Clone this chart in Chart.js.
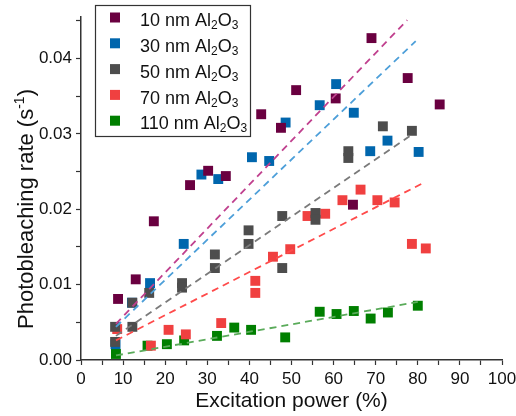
<!DOCTYPE html>
<html>
<head>
<meta charset="utf-8">
<script src="https://cdn.jsdelivr.net/npm/chart.js@4.4.0/dist/chart.umd.min.js"></script>
<style>
  html, body { margin: 0; padding: 0; background: #fff; }
  #wrap { width: 516px; height: 416px; }
</style>
</head>
<body>
<div id="wrap"><canvas id="chart" width="516" height="416"></canvas></div>
<script>
// Al2O3 thickness of each series (nm)
const thickness = ['10', '30', '50', '70', '110'];

// Measured photobleaching rates (s^-1) vs excitation power (%)
const power10 = [8.8, 13.0, 17.3, 25.9, 30.2, 34.4, 42.8, 47.5, 51.1, 60.5, 64.6, 69.0, 77.6, 85.2];
const rate10  = [0.0081, 0.0107, 0.0184, 0.0232, 0.0251, 0.0244, 0.0326, 0.0308, 0.0358, 0.0347, 0.0206, 0.0427, 0.0374, 0.0339];

const power30 = [8.2, 12.1, 16.4, 24.4, 28.6, 32.6, 40.6, 44.7, 48.6, 56.7, 60.6, 64.8, 68.7, 72.8, 80.2];
const rate30  = [0.0021, 0.0076, 0.0102, 0.0154, 0.0246, 0.0240, 0.0269, 0.0264, 0.0315, 0.0338, 0.0366, 0.0328, 0.0277, 0.0291, 0.0276];

const power50 = [8.1, 8.1, 12.2, 12.2, 16.2, 24.0, 24.0, 31.8, 31.8, 39.8, 39.8, 47.8, 47.8, 55.7, 55.7, 63.5, 63.5, 71.7, 78.6];
const rate50  = [0.0044, 0.0024, 0.0076, 0.0044, 0.0089, 0.0102, 0.0096, 0.0140, 0.0122, 0.0172, 0.0154, 0.0191, 0.0122, 0.0195, 0.0186, 0.0277, 0.0268, 0.0310, 0.0304];

const power70 = [8.6, 16.6, 20.8, 24.9, 33.3, 41.4, 41.4, 45.6, 49.7, 53.8, 58.0, 62.1, 66.4, 70.4, 74.5, 78.6, 81.9];
const rate70  = [0.0041, 0.0019, 0.0040, 0.0034, 0.0049, 0.0105, 0.0089, 0.0137, 0.0147, 0.0191, 0.0194, 0.0212, 0.0226, 0.0212, 0.0209, 0.0154, 0.0148];

const power110 = [8.3, 15.8, 20.4, 24.5, 32.3, 36.4, 40.4, 48.5, 56.7, 60.7, 64.8, 68.8, 72.9, 80.0];
const rate110  = [0.0008, 0.0019, 0.0021, 0.0026, 0.0032, 0.0043, 0.0040, 0.0030, 0.0064, 0.0061, 0.0065, 0.0055, 0.0063, 0.0072];

// Linear fits: start/end power and rate
const fitPower = [[8.3, 77.5], [8.3, 79.5], [8.3, 78.1], [8.3, 81.7], [8.3, 80.0]];
const fitRate  = [[0.0048, 0.0451], [0.0044, 0.0423], [0.0032, 0.0297], [0.0026, 0.0236], [0.0006, 0.0077]];

const xTicks = [0, 10, 20, 30, 40, 50, 60, 70, 80, 90, 100];
const yTicks = [0.00, 0.01, 0.02, 0.03, 0.04];

const markerColors = ['#6a0040', '#0066ad', '#4d4d4d', '#f04040', '#007f00'];
const fitColors    = ['#c0408e', '#4d9fd9', '#7a7a7a', '#ff4a4a', '#5aab5a'];
// grey drawn on top, green at the bottom
const stackOrder   = [2, 3, 1, 4, 5];

const powers = [power10, power30, power50, power70, power110];
const rates  = [rate10, rate30, rate50, rate70, rate110];

const FONT = '"Liberation Sans", Arial, sans-serif';

const toPoints = (xs, ys) => xs.map((x, i) => ({ x: x, y: ys[i] }));

const datasets = [];
thickness.forEach((t, i) => {
    datasets.push({
        label: t + ' nm fit',
        data: toPoints(fitPower[i], fitRate[i]),
        showLine: true,
        borderColor: fitColors[i],
        borderWidth: 1.8,
        borderDash: [7, 5],
        pointRadius: 0,
        order: 0
    });
});
thickness.forEach((t, i) => {
    datasets.push({
        label: t + ' nm Al2O3',
        data: toPoints(powers[i], rates[i]),
        pointStyle: 'rect',
        pointRadius: 7,
        borderWidth: 0,
        backgroundColor: markerColors[i],
        borderColor: markerColors[i],
        order: stackOrder[i]
    });
});

// Draws text pieces with sub/superscripts, returns end x
function drawRich(ctx, parts, x, y) {
    parts.forEach(p => {
        ctx.font = p.size + 'px ' + FONT;
        ctx.fillText(p.text, x, y + (p.shift || 0));
        x += ctx.measureText(p.text).width;
    });
    return x;
}
function richWidth(ctx, parts) {
    let w = 0;
    parts.forEach(p => {
        ctx.font = p.size + 'px ' + FONT;
        w += ctx.measureText(p.text).width;
    });
    return w;
}

const annotations = {
    id: 'annotations',
    afterDraw(chart) {
        const ctx = chart.ctx;
        ctx.save();

        // legend box
        ctx.strokeStyle = '#333';
        ctx.lineWidth = 1.2;
        ctx.strokeRect(95.5, 5.5, 155, 131);
        ctx.textBaseline = 'alphabetic';
        ctx.textAlign = 'left';
        thickness.forEach((t, i) => {
            const cy = 17.5 + i * 25.8;
            ctx.fillStyle = markerColors[i];
            ctx.fillRect(110, cy - 5, 10, 10);
            ctx.fillStyle = '#111';
            drawRich(ctx, [
                { text: t + ' nm Al', size: 18 },
                { text: '2', size: 12, shift: 3 },
                { text: 'O', size: 18 },
                { text: '3', size: 12, shift: 3 }
            ], 140, cy + 8.7);
        });

        // y axis title
        const title = [
            { text: 'Photobleaching rate (s', size: 22 },
            { text: '-1', size: 14, shift: -9 },
            { text: ')', size: 22 }
        ];
        const w = richWidth(ctx, title);
        ctx.translate(33, 209);
        ctx.rotate(-Math.PI / 2);
        ctx.fillStyle = '#111';
        drawRich(ctx, title, -w / 2, 0);

        ctx.restore();
    }
};

new Chart(document.getElementById('chart'), {
    type: 'scatter',
    data: { datasets: datasets },
    plugins: [annotations],
    options: {
        responsive: false,
        animation: false,
        events: [],
        layout: { padding: { top: 17, right: 14, left: 0, bottom: 0 } },
        plugins: { legend: { display: false }, tooltip: { enabled: false } },
        scales: {
            x: {
                type: 'linear',
                min: 0,
                max: 100,
                afterBuildTicks: s => {
                    const minor = xTicks.slice(0, -1).map(v => v + 5);
                    s.ticks = xTicks.concat(minor).sort((a, b) => a - b).map(v => ({ value: v }));
                },
                afterFit: s => { s.paddingLeft = 0; s.paddingRight = 0; s.height = 56; },
                ticks: {
                    autoSkip: false,
                    maxRotation: 0,
                    padding: 4,
                    color: '#111',
                    font: { family: FONT, size: 17 },
                    callback: v => xTicks.includes(v) ? String(v) : ''
                },
                grid: { drawOnChartArea: false, drawTicks: true, tickLength: 5, tickColor: '#333', tickWidth: 1.2 },
                border: { color: '#333', width: 1.5 },
                title: {
                    display: true,
                    text: 'Excitation power (%)',
                    color: '#111',
                    font: { family: FONT, size: 21 },
                    padding: { top: 0, bottom: 2 }
                }
            },
            y: {
                type: 'linear',
                min: 0,
                max: 0.0455,
                afterBuildTicks: s => {
                    const minor = yTicks.map(v => v + 0.005);
                    s.ticks = yTicks.concat(minor).sort((a, b) => a - b).map(v => ({ value: v }));
                },
                afterFit: s => { s.width = 81; s.paddingTop = 0; s.paddingBottom = 0; },
                ticks: {
                    autoSkip: false,
                    padding: 4,
                    color: '#111',
                    font: { family: FONT, size: 17 },
                    callback: v => yTicks.some(t => Math.abs(t - v) < 1e-9) ? v.toFixed(2) : ''
                },
                grid: { drawOnChartArea: false, drawTicks: true, tickLength: 5, tickColor: '#333', tickWidth: 1.2 },
                border: { color: '#333', width: 1.5 }
            }
        }
    }
});
</script>
</body>
</html>
